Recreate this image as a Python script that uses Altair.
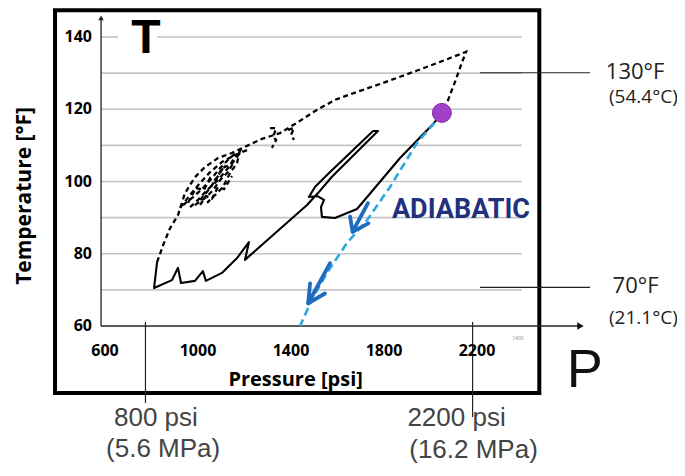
import altair as alt
import pandas as pd

# ---- scale domains (psi, degF) -------------------------------------------
P_DOMAIN = [182.8, 3060.2]
T_DOMAIN = [20.69, 148.03]

# ---- axes / grid ---------------------------------------------------------
Y_TICKS = [60, 80, 100, 120, 140]
X_TICKS = [600, 1000, 1400, 1800, 2200]
GRID_T = [70, 80, 90, 100, 110, 120, 130]
AXIS_P = 583          # position of the temperature axis (psi)
GRID_END_P = 2393     # right end of grid lines

# ---- solid (measured) curve ---------------------------------------------
SOLID_P = [824, 811, 888, 914, 927, 987, 1021, 1034, 1103, 1168, 1219, 1202,
           1469, 1516, 1576, 1774, 1753, 1568, 1503, 1477, 1512, 1542, 1529,
           1533, 1589, 1684, 1869, 2006, 2041]
SOLID_T = [77.7, 70.5, 72.7, 76.1, 71.9, 72.5, 75.2, 72.5, 74.7, 78.8, 83.2, 78.3,
           93.5, 96.8, 101.3, 114.0, 114.0, 102.6, 98.5, 95.7, 96.0, 94.9, 92.9,
           90.2, 89.9, 92.4, 106.5, 115.6, 118.1]

# ---- dashed curve (main strand) -----------------------------------------
DASH_P = [824, 850, 880, 914, 944, 987, 1030, 1086, 1146, 1202, 1275, 1353,
          1439, 1495, 1589, 1684, 1783, 1925, 2041, 2153, 2136, 2105, 2084, 2071]
DASH_T = [77.7, 82.4, 87.1, 90.7, 96.8, 101.2, 104.0, 106.5, 107.9, 109.6, 111.8, 113.4,
          116.8, 119.2, 122.6, 124.8, 127.0, 130.3, 133.1, 135.9, 133.1, 127.5, 124.0, 121.7]

# ---- dashed tangle strands ----------------------------------------------
S1_P = [923, 966, 1009, 1052, 1103, 1159, 1211]
S1_T = [92.7, 96.3, 99.6, 102.6, 105.4, 107.3, 108.7]
S2_P = [936, 979, 1022, 1060, 1095, 1129, 1168]
S2_T = [93.5, 95.7, 98.2, 101.0, 103.7, 106.0, 108.2]
S3_P = [966, 1000, 1039, 1086, 1129, 1159, 1189]
S3_T = [92.9, 94.9, 97.6, 100.4, 103.7, 106.0, 108.7]
S4_P = [1181, 1168, 1138, 1108, 1065, 1039]
S4_T = [108.7, 105.1, 102.4, 98.5, 95.7, 94.1]
S5_P = [987, 1030, 1065, 1095, 1129, 1151]
S5_T = [93.5, 95.4, 97.6, 100.4, 102.6, 105.1]
S6_P = [1009, 1052, 1086, 1116]
S6_T = [94.9, 98.2, 101.5, 104.6]
S7_P = [957, 991, 1026, 1052, 1077, 1103, 1138, 1163]
S7_T = [94.1, 98.2, 97.7, 101.0, 100.4, 103.7, 104.6, 107.3]
S8_P = [1009, 1034, 1060, 1086, 1112, 1146]
S8_T = [93.5, 96.0, 95.2, 98.5, 97.9, 101.5]
Q1_P = [1310, 1336, 1323, 1336, 1318]
Q1_T = [114.8, 114.8, 112.3, 111.5, 109.3]
Q2_P = [1387, 1413, 1400, 1413]
Q2_T = [114.3, 114.8, 112.9, 111.5]

# ---- adiabatic curve -----------------------------------------------------
ADIA_P = [2049, 2028, 1942, 1826, 1727, 1641, 1555, 1495, 1439]
ADIA_T = [119.0, 117.0, 110.7, 98.5, 89.3, 83.0, 74.7, 68.0, 60.0]

# arrows on the adiabatic curve: shaft start, tip, wing L, wing R
ARROW1_P = [1731, 1665, 1654, 1733]
ARROW1_T = [94.0, 86.1, 90.3, 88.4]
ARROW2_P = [1568, 1474, 1482, 1546]
ARROW2_T = [77.4, 66.3, 71.8, 69.0]

DOT_P = [2049]
DOT_T = [119.0]

xs = alt.Scale(domain=P_DOMAIN, nice=False, zero=False)
ys = alt.Scale(domain=T_DOMAIN, nice=False, zero=False)
X = alt.X("P:Q", scale=xs, axis=None)
Y = alt.Y("T:Q", scale=ys, axis=None)


def path_df(ps, ts, group="a"):
    return pd.DataFrame({"P": ps, "T": ts, "i": list(range(len(ps))), "g": group})


def line_layer(df, **kw):
    return alt.Chart(df).mark_line(**kw).encode(
        x=X, y=Y, order=alt.Order("i:Q"), detail="g:N")


def text_layer(rows, **kw):
    df = pd.DataFrame(rows, columns=["P", "T", "label"])
    return alt.Chart(df).mark_text(**kw).encode(x=X, y=Y, text="label:N")


layers = []

# grid lines
grid = pd.DataFrame({
    "P": [AXIS_P] * len(GRID_T) + [AXIS_P, 824],
    "P2": [GRID_END_P] * len(GRID_T) + [656, GRID_END_P],
    "T": GRID_T + [140, 140],
})
layers.append(alt.Chart(grid).mark_rule(color="#c4c4c4", strokeWidth=1.6).encode(
    x=X, x2="P2:Q", y=Y))

# frame
frame = pd.DataFrame({"P": [385], "P2": [2468], "T": [147.4], "T2": [41.45]})
layers.append(alt.Chart(frame).mark_rect(fillOpacity=0, stroke="black", strokeWidth=4).encode(
    x=X, x2="P2:Q", y=Y, y2="T2:Q"))

# axis lines
axes = pd.DataFrame({"P": [AXIS_P, AXIS_P], "P2": [AXIS_P, 2640], "T": [60, 60], "T2": [145.5, 60]})
layers.append(alt.Chart(axes).mark_rule(color="#222", strokeWidth=1.3).encode(
    x=X, x2="P2:Q", y=Y, y2="T2:Q"))
layers.append(alt.Chart(pd.DataFrame({"P": [AXIS_P], "T": [145.3]})).mark_point(
    shape="triangle-up", filled=True, size=30, color="#222", opacity=1).encode(x=X, y=Y))
layers.append(alt.Chart(pd.DataFrame({"P": [2645], "T": [60]})).mark_point(
    shape="triangle-right", filled=True, size=55, color="#111", opacity=1).encode(x=X, y=Y))

# reference lines (psi verticals, degF horizontals)
refs = pd.DataFrame({"P": [774, 2181, 2213, 2213], "P2": [774, 2181, 2686, 2686],
                     "T": [61.1, 61.1, 130.1, 70.7], "T2": [38.7, 34.8, 130.1, 70.7]})
layers.append(alt.Chart(refs).mark_rule(color="#222", strokeWidth=1.2).encode(
    x=X, x2="P2:Q", y=Y, y2="T2:Q"))

# curves
layers.append(line_layer(path_df(SOLID_P, SOLID_T), color="black", strokeWidth=2.1,
                         strokeJoin="round"))
dash_df = pd.concat([
    path_df(DASH_P, DASH_T, "main"), path_df(S1_P, S1_T, "s1"), path_df(S2_P, S2_T, "s2"),
    path_df(S3_P, S3_T, "s3"), path_df(S4_P, S4_T, "s4"), path_df(S5_P, S5_T, "s5"),
    path_df(S6_P, S6_T, "s6"), path_df(S7_P, S7_T, "s7"), path_df(S8_P, S8_T, "s8"),
    path_df(Q1_P, Q1_T, "q1"), path_df(Q2_P, Q2_T, "q2"),
])
layers.append(line_layer(dash_df, color="black", strokeWidth=2.3, strokeDash=[5, 3.5]))
layers.append(line_layer(path_df(ADIA_P, ADIA_T), color="#2ba8e0", strokeWidth=2.6,
                         strokeDash=[8, 4.5]))

arrow_df = pd.concat([
    path_df(ARROW1_P[:2], ARROW1_T[:2], "a1s"),
    path_df([ARROW1_P[2], ARROW1_P[1], ARROW1_P[3]], [ARROW1_T[2], ARROW1_T[1], ARROW1_T[3]], "a1h"),
    path_df(ARROW2_P[:2], ARROW2_T[:2], "a2s"),
    path_df([ARROW2_P[2], ARROW2_P[1], ARROW2_P[3]], [ARROW2_T[2], ARROW2_T[1], ARROW2_T[3]], "a2h"),
])
layers.append(line_layer(arrow_df, color="#1f6cbf", strokeWidth=3.8, strokeCap="round",
                         strokeJoin="round"))

layers.append(alt.Chart(pd.DataFrame({"P": DOT_P, "T": DOT_T})).mark_point(
    shape="circle", filled=True, size=360, color="#a23fc8", opacity=1,
    stroke="#7d2a9e", strokeWidth=1).encode(x=X, y=Y))

# tick labels
layers.append(text_layer([[544, t, str(t)] for t in Y_TICKS], align="right", baseline="middle",
                         font="Open Sans", fontWeight="bold", fontSize=16, color="black"))
layers.append(text_layer([[p, 53.2, str(p)] for p in X_TICKS], align="center", baseline="middle",
                         font="Open Sans", fontWeight="bold", fontSize=16, color="black"))
layers.append(text_layer([[2376, 56.7, "1400"]], align="center", baseline="middle",
                         font="Open Sans", fontSize=5, color="#888"))

# axis titles
layers.append(text_layer([[258, 96.0, "Temperature [°F]"]], angle=270, align="center",
                         baseline="middle", font="Open Sans", fontWeight="bold", fontSize=21,
                         color="black"))
layers.append(text_layer([[1420, 45.0, "Pressure [psi]"]], align="center", baseline="middle",
                         font="Open Sans", fontWeight="bold", fontSize=20, color="black"))

# big T and P
layers.append(text_layer([[776, 135.6, "T"]], align="center", baseline="alphabetic",
                         font="Liberation Sans", fontWeight="bold", fontSize=48,
                         color="black"))
layers.append(text_layer([[2664, 43.1, "P"]], align="center", baseline="alphabetic",
                         font="Liberation Sans", fontSize=54, color="#111"))

# ADIABATIC
layers.append(text_layer([[2131, 89.9, "ADIABATIC"]], align="center", baseline="alphabetic",
                         font="Roboto", fontWeight="bold", fontSize=27,
                         color="#22307e"))

# right-hand temperature notes
layers.append(text_layer([[2880, 130.3, "130°F"], [2882, 71.1, "70°F"]], align="center",
                         baseline="middle", font="Open Sans", fontSize=22, color="#222"))
layers.append(text_layer([[2916, 123.4, "(54.4°C)"], [2916, 62.2, "(21.1°C)"]], align="center",
                         baseline="middle", font="Open Sans", fontSize=19, color="#222"))

# bottom pressure notes
layers.append(text_layer([[819, 34.5, "800 psi"], [2112, 34.5, "2200 psi"]], align="center",
                         baseline="middle", font="Liberation Sans", fontSize=26, color="#444"))
layers.append(text_layer([[850, 25.9, "(5.6 MPa)"], [2185, 25.7, "(16.2 MPa)"]], align="center",
                         baseline="middle", font="Liberation Sans", fontSize=26, color="#444"))

chart = alt.layer(*layers).properties(
    width=669, height=460, autosize=alt.AutoSizeParams(type="none"), padding=0
).configure_view(strokeWidth=0)

chart.save("out.html", embed_options={"renderer": "svg", "actions": False})
